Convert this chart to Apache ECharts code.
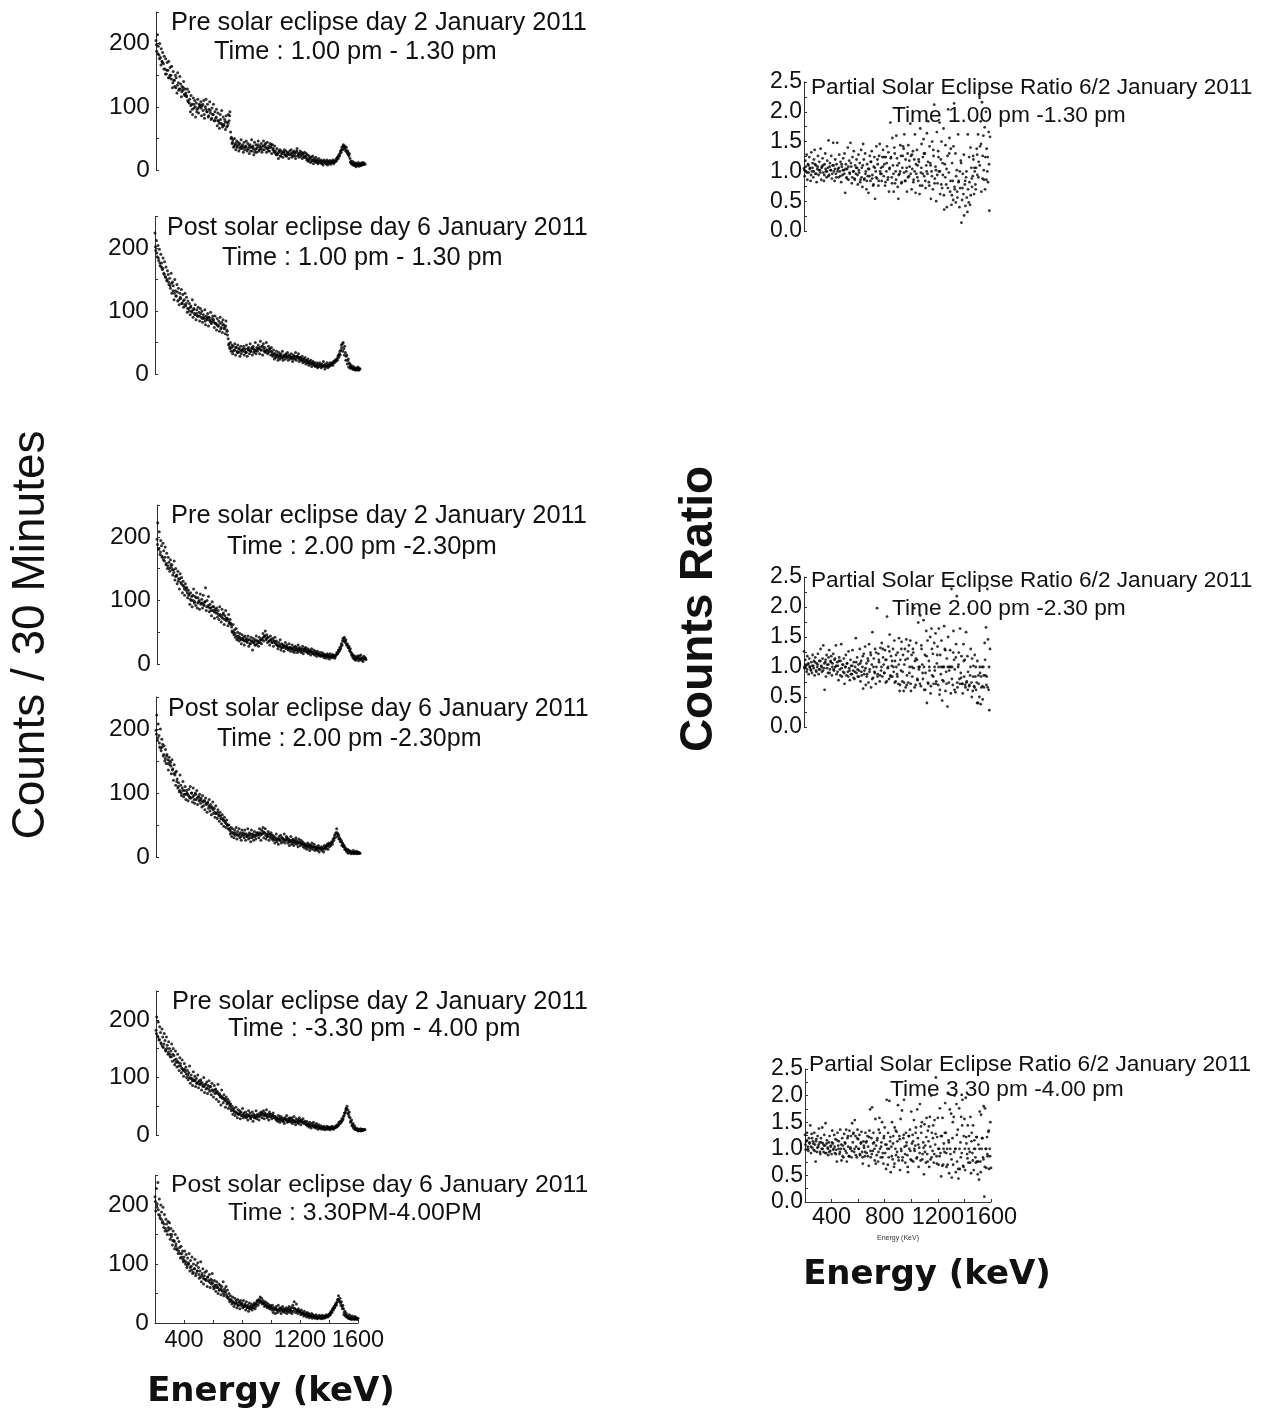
<!DOCTYPE html>
<html><head><meta charset="utf-8">
<style>html,body{margin:0;padding:0;background:#fff}#c{width:1263px;height:1411px}</style>
<script src="https://cdn.jsdelivr.net/npm/echarts@6/dist/echarts.min.js"></script></head>
<body><div id="c"></div>
<script>
const energies=[
200,205,210,215,220,225,230,235,240,245,250,255,260,265,270,275,280,285,290,295,
300,305,310,315,320,325,330,335,340,345,350,355,360,365,370,375,380,385,390,395,
400,405,410,415,420,425,430,435,440,445,450,455,460,465,470,475,480,485,490,495,
500,505,510,515,520,525,530,535,540,545,550,555,560,565,570,575,580,585,590,595,
600,605,610,615,620,625,630,635,640,645,650,655,660,665,670,675,680,685,690,695,
700,705,710,715,720,725,730,735,740,745,750,755,760,765,770,775,780,785,790,795,
800,805,810,815,820,825,830,835,840,845,850,855,860,865,870,875,880,885,890,895,
900,905,910,915,920,925,930,935,940,945,950,955,960,965,970,975,980,985,990,995,
1000,1005,1010,1015,1020,1025,1030,1035,1040,1045,1050,1055,1060,1065,1070,1075,1080,1085,1090,1095,
1100,1105,1110,1115,1120,1125,1130,1135,1140,1145,1150,1155,1160,1165,1170,1175,1180,1185,1190,1195,
1200,1205,1210,1215,1220,1225,1230,1235,1240,1245,1250,1255,1260,1265,1270,1275,1280,1285,1290,1295,
1300,1305,1310,1315,1320,1325,1330,1335,1340,1345,1350,1355,1360,1365,1370,1375,1380,1385,1390,1395,
1400,1405,1410,1415,1420,1425,1430,1435,1440,1445,1450,1455,1460,1465,1470,1475,1480,1485,1490,1495,
1500,1505,1510,1515,1520,1525,1530,1535,1540,1545,1550,1555,1560,1565,1570,1575,1580,1585,1590,1595,1600];
const energiesB=[
203,213,223,233,243,253,263,273,283,293,303,313,323,333,343,353,363,373,383,393,
403,413,423,433,443,453,463,473,483,493,503,513,523,533,543,553,563,573,583,593,
603,613,623,633,643,653,663,673,683,693,703,713,723,733,743,753,763,773,783,793,
803,813,823,833,843,853,863,873,883,893,903,913,923,933,943,953,963,973,983,993,
1003,1013,1023,1033,1043,1053,1063,1073,1083,1093,1103,1113,1123,1133,1143,1153,1163,1173,1183,1193,
1203,1213,1223,1233,1243,1253,1263,1273,1283,1293,1303,1313,1323,1333,1343,1353,1363,1373,1383,1393,
1403,1413,1423,1433,1443,1453,1463,1473,1483,1493,1503,1513,1523,1533,1543,1553,1563,1573,1583,1593];

const pre1=[
205,188,214,196,182,200,178,192,172,186,168,180,160,176,152,170,158,172,146,162,
150,164,130,156,142,132,150,146,122,154,138,128,148,136,116,132,126,140,120,128,
122,116,128,108,124,112,92,118,104,88,114,98,110,84,106,96,112,90,104,100,
108,86,102,94,110,82,100,112,92,104,84,96,108,90,80,98,88,104,78,92,
82,96,70,90,78,66,88,74,94,68,84,72,80,64,86,76,70,88,78,92,
60,52,42,48,36,50,40,32,46,38,44,30,42,36,48,34,40,28,44,36,
38,46,30,42,34,26,40,36,48,30,38,24,44,32,40,28,36,46,30,38,
34,42,28,38,46,32,40,36,28,44,34,38,30,42,36,26,40,34,30,38,
30,24,34,26,18,28,32,22,30,26,20,28,32,24,30,22,28,26,18,30,
24,32,20,28,22,30,26,18,28,34,22,26,20,30,24,28,18,26,22,28,
20,26,16,24,14,22,18,12,20,16,22,10,18,14,20,12,16,10,18,14,
12,16,10,14,8,16,12,14,10,16,8,14,11,15,9,14,12,16,10,14,
13,17,15,20,18,24,22,30,28,36,32,40,34,38,30,36,28,30,24,26,
18,14,10,14,8,12,7,11,5,10,8,12,6,10,7,11,8,12,9,11,9];
const pre1B=[
198,184,176,166,170,160,152,158,146,150,144,138,142,130,134,126,128,124,130,118,
118,110,106,102,96,104,100,92,98,102,98,104,88,96,92,86,94,82,88,78,
84,78,74,80,72,70,76,68,74,86,50,44,38,42,36,40,34,38,36,32,
36,32,38,30,36,34,28,34,40,32,36,32,38,42,34,30,36,40,32,28,
26,24,30,22,26,28,24,22,26,24,26,24,28,22,30,24,26,22,26,20,
22,18,16,20,14,16,14,16,12,14,13,11,14,12,10,13,11,12,14,12,
14,18,22,26,32,38,36,32,26,22,12,10,9,8,10,7,9,8,10,9];

const post1=[
224,196,212,186,204,180,198,172,190,176,166,184,160,178,154,170,148,164,158,142,
152,136,160,128,146,140,118,150,132,124,142,116,136,110,128,120,134,112,126,106,
118,128,108,122,98,116,104,112,94,108,100,118,90,104,96,110,86,102,92,106,
98,84,104,90,100,82,94,88,102,78,92,86,96,76,90,84,98,80,88,92,
86,74,92,80,70,88,76,84,68,90,72,82,66,86,78,74,64,84,70,62,
56,48,42,50,36,46,32,44,38,48,30,42,36,46,34,40,28,44,32,38,
36,44,30,40,34,46,28,38,42,32,48,36,40,30,44,34,38,50,32,42,
36,46,40,32,52,38,44,30,48,36,42,34,50,38,32,44,36,40,30,42,
34,28,38,24,32,26,36,30,22,34,28,24,32,26,36,22,30,28,24,32,
26,34,22,30,28,24,32,26,20,30,28,24,34,22,28,26,32,20,26,24,
22,28,18,24,20,26,16,22,18,24,14,20,16,22,12,18,20,14,18,12,
14,18,10,16,12,18,14,10,16,12,20,14,8,16,12,18,10,14,12,18,
14,16,18,14,20,18,22,20,24,22,28,26,32,30,38,42,48,50,40,44,
34,28,30,22,24,18,16,12,14,10,8,12,7,10,6,9,8,11,6,9,8];
const post1B=[
202,192,184,176,170,168,158,154,150,146,140,144,132,128,124,130,118,122,112,116,
110,112,104,100,106,98,102,94,96,92,92,96,88,90,84,88,90,86,82,84,
82,80,78,76,80,74,78,72,76,68,46,40,42,36,38,42,34,40,36,38,
40,36,34,40,38,36,42,40,36,38,40,42,38,44,40,36,38,34,40,36,
30,32,28,30,26,30,28,26,28,30,28,26,28,26,24,28,26,28,24,26,
22,24,20,22,18,20,18,16,16,14,14,12,14,13,12,14,12,13,15,14,
15,17,19,22,24,30,36,46,36,30,22,16,11,9,10,8,8,7,8,7];

const pre2=[
196,222,180,208,172,194,186,168,190,178,162,184,156,174,150,168,160,146,164,152,
156,140,148,162,132,150,138,126,146,134,118,142,128,136,112,130,122,108,126,116,
120,104,116,110,94,112,100,90,108,118,96,106,92,112,88,104,98,86,110,96,
102,88,108,92,98,120,84,100,90,106,82,94,88,76,98,84,90,72,86,80,
88,74,84,70,90,78,66,86,72,80,62,76,84,68,72,60,78,64,70,62,
58,50,62,46,54,42,56,38,50,44,36,48,40,32,46,38,42,30,44,36,
40,34,44,28,38,32,42,36,22,40,34,30,38,44,32,36,28,42,34,38,
32,40,48,36,44,52,38,46,34,42,36,30,44,38,34,40,28,36,42,32,
36,30,24,34,28,38,22,32,26,30,20,28,34,24,30,26,22,32,26,20,
24,30,20,26,18,28,22,24,18,30,20,26,22,18,24,28,16,24,20,26,
22,18,24,16,22,20,14,24,18,16,22,14,20,18,12,20,16,14,18,12,
14,18,12,16,10,15,13,9,16,12,14,8,16,12,10,15,11,14,9,13,
14,18,16,22,20,26,24,32,30,40,36,42,34,38,30,32,26,28,22,24,
18,16,12,14,8,12,6,11,9,13,5,12,8,14,6,10,4,12,8,10,7];
const pre2B=[
188,182,176,170,164,168,158,154,150,156,148,144,138,140,130,134,126,124,118,120,
112,108,102,106,100,98,104,96,100,94,96,94,98,90,92,88,84,90,82,84,
80,78,76,74,78,70,72,70,66,64,52,50,48,44,40,42,38,40,36,38,
36,38,32,36,34,36,30,36,34,38,38,42,44,40,42,36,38,34,36,34,
30,28,30,26,30,26,28,26,24,26,24,24,22,26,22,24,22,20,22,24,
20,20,18,20,18,16,16,16,14,14,13,14,12,13,12,11,12,13,12,11,
15,18,22,28,36,40,36,30,26,20,14,10,9,8,9,9,8,9,8,9];

const post2=[
198,222,182,208,190,172,200,166,184,176,158,174,150,168,146,160,152,136,156,144,
148,130,152,138,120,144,128,112,134,122,108,116,102,128,112,96,108,118,94,104,
110,90,104,98,88,106,94,110,92,100,86,108,96,84,100,90,104,82,94,88,
98,84,92,78,96,80,88,74,92,84,70,86,76,90,72,82,66,78,86,68,
76,62,80,68,60,74,64,56,70,60,52,66,58,48,62,54,46,58,50,44,
50,42,36,46,32,44,38,30,42,34,46,28,40,34,44,30,38,26,42,34,
38,30,42,26,36,32,44,28,38,34,24,42,30,36,26,40,32,28,38,34,
38,30,44,34,26,42,36,46,30,38,44,28,36,32,40,26,36,30,38,28,
34,26,32,22,30,36,24,28,20,32,26,34,22,30,24,28,36,22,26,32,
30,22,28,18,26,32,20,24,28,18,26,22,30,20,24,16,28,22,18,26,
20,24,16,22,14,20,18,12,22,16,20,10,18,14,22,12,16,20,10,16,
12,16,10,18,8,14,12,16,10,14,8,18,12,16,14,20,12,22,16,20,
18,24,20,28,26,34,30,38,44,32,36,28,30,24,26,18,22,16,18,12,
14,10,8,12,6,10,7,9,5,8,6,10,5,8,6,9,5,8,6,7,6];
const post2B=[
192,186,178,170,172,160,154,158,146,150,142,136,130,132,118,110,104,100,104,98,
98,100,96,92,100,94,90,98,92,94,90,88,86,88,82,84,80,78,76,74,
70,68,70,66,64,60,58,56,52,50,44,40,38,36,38,36,34,36,32,36,
34,36,32,34,30,36,32,34,34,36,36,38,36,40,38,34,32,36,32,34,
30,28,26,28,28,26,30,28,26,28,26,24,24,26,22,24,26,22,24,22,
20,20,18,16,18,14,18,16,16,14,13,14,14,12,13,15,16,18,18,20,
22,24,30,36,38,34,28,24,20,16,12,10,8,9,8,7,7,7,7,6];

const pre3=[
182,205,172,196,165,188,178,158,184,170,152,176,164,146,170,156,140,162,150,136,
146,158,128,150,138,122,146,132,118,140,126,112,134,120,108,130,114,102,124,110,
118,100,112,96,108,120,90,104,98,86,110,94,102,84,98,90,104,82,94,88,
96,78,90,84,100,74,88,80,92,72,86,94,76,84,70,90,78,66,86,72,
80,62,76,88,58,72,66,52,78,64,56,70,60,48,66,54,62,46,58,50,
54,42,50,36,46,40,34,48,38,30,44,36,42,28,40,34,46,30,38,32,
40,30,36,26,42,34,38,28,32,40,24,36,30,34,42,28,36,32,26,38,
34,40,30,36,42,28,38,34,44,30,36,26,40,32,36,28,34,38,30,32,
32,26,30,24,34,28,22,32,26,30,24,28,20,30,26,34,22,28,24,30,
28,22,30,20,26,32,24,18,28,22,26,20,30,24,18,26,22,28,20,24,
22,18,24,16,20,14,22,18,12,20,16,22,14,18,12,20,16,10,18,14,
13,16,10,14,12,15,9,13,11,15,10,14,12,9,14,11,15,12,10,14,
14,16,14,18,16,22,20,24,22,28,26,32,34,38,42,46,50,44,36,40,
30,24,26,18,20,14,16,10,12,9,11,7,10,8,11,7,10,8,9,10,9];
const pre3B=[
176,170,166,160,154,158,148,150,144,140,136,140,130,126,128,120,124,116,112,114,
106,104,100,98,94,96,94,90,92,88,92,86,84,88,82,80,84,78,76,78,
74,72,70,68,66,64,62,58,56,54,46,44,42,40,38,36,38,34,36,34,
34,32,34,30,34,32,30,32,34,32,36,38,34,36,34,32,36,32,34,30,
28,28,26,30,26,24,28,26,24,26,24,26,24,22,24,22,26,24,22,22,
20,18,18,16,16,16,14,15,14,12,12,12,11,12,11,12,12,11,12,12,
13,15,18,20,24,28,38,46,38,32,22,16,12,10,9,8,9,8,9,9];

const post3=[
214,190,228,202,238,184,210,178,200,188,170,196,162,184,156,176,168,150,172,158,
170,142,160,150,132,156,140,126,150,134,124,144,118,138,128,110,130,118,122,104,
112,122,100,116,94,110,102,118,88,106,96,112,84,100,92,108,80,98,88,102,
94,76,88,104,70,84,92,66,80,86,74,88,62,78,72,82,60,74,66,84,
68,58,72,64,54,70,60,50,66,56,64,48,62,54,70,46,58,52,62,44,
56,42,50,36,46,40,32,44,36,28,42,34,38,26,40,30,36,24,38,32,
34,26,38,28,32,22,36,26,30,20,34,28,24,32,22,30,26,34,24,28,
32,38,30,40,34,44,36,42,32,38,34,28,36,30,34,26,32,28,24,30,
28,22,30,18,26,24,16,28,22,18,30,24,20,26,16,24,28,20,24,18,
22,26,16,24,20,28,18,22,26,16,30,20,36,24,18,32,22,16,24,20,
20,14,22,16,18,12,20,14,16,10,18,12,16,9,14,12,16,8,14,10,
12,8,14,10,7,12,9,13,8,11,7,13,10,8,12,9,14,11,10,14,
12,16,14,20,18,24,22,28,26,32,30,36,40,46,38,42,34,36,28,30,
24,18,20,14,16,10,12,8,14,7,11,6,12,8,10,6,11,7,9,6,8];
const post3B=[
206,196,192,182,176,172,168,160,156,162,150,146,140,138,130,126,122,118,112,108,
106,104,98,100,94,90,86,92,84,88,82,78,80,76,74,72,78,70,68,72,
62,60,64,60,56,58,56,50,54,48,44,40,38,36,34,32,34,30,34,30,
30,28,30,28,26,24,28,26,30,32,36,38,38,36,34,32,30,28,28,26,
26,24,22,24,22,22,24,22,20,22,22,20,24,22,20,26,24,22,20,20,
18,16,16,14,14,13,12,12,11,12,10,10,9,10,10,9,11,10,11,12,
14,18,22,26,30,34,40,36,30,24,14,12,10,9,8,8,7,8,7,7];

const ratio1=[
1.05,0.92,1.18,1.0,1.28,0.86,1.12,0.98,1.24,1.06,0.84,1.32,1.0,1.14,0.9,1.2,1.36,0.96,1.1,0.82,
1.04,1.26,0.94,1.16,1.02,1.38,0.86,1.08,1.22,0.98,0.84,1.12,1.3,1.0,0.9,1.18,1.06,1.52,0.94,1.14,
1.02,1.26,0.88,1.1,1.48,1.0,0.84,1.2,0.96,1.12,1.48,1.04,0.9,1.28,1.0,1.16,0.82,1.08,0.94,1.22,
1.02,1.3,0.64,1.12,0.9,1.04,1.4,0.86,1.18,0.96,1.48,1.08,0.8,1.24,1.0,1.34,0.88,1.1,0.96,1.2,
1.06,0.78,1.28,0.98,1.14,0.86,1.36,1.06,0.74,1.46,1.2,0.88,1.3,1.0,0.7,1.12,0.92,0.64,1.04,1.26,
0.84,1.16,1.34,0.94,0.76,1.08,1.24,0.54,1.0,1.42,0.88,1.12,0.76,1.26,1.46,0.96,1.06,0.84,1.24,1.36,
0.92,1.12,0.76,1.24,1.0,1.42,0.86,1.32,0.66,1.06,1.82,1.24,0.9,1.56,1.1,0.66,1.4,0.8,1.0,1.6,
1.22,0.74,0.54,1.14,0.96,1.44,1.26,0.82,1.06,1.42,1.38,1.62,0.84,1.2,1.0,0.66,1.3,1.44,0.92,1.08,
1.8,1.26,0.7,1.04,1.34,0.86,1.2,1.62,0.64,0.96,1.36,1.1,0.84,1.16,0.62,1.72,0.98,1.46,0.76,1.24,
1.54,0.92,1.3,0.72,1.1,1.64,0.96,1.84,0.82,1.42,1.14,0.54,1.0,1.5,0.7,1.26,2.12,0.88,1.08,0.5,
1.66,0.8,1.34,1.0,1.82,0.62,1.2,1.5,0.72,0.94,1.72,0.36,1.12,1.44,0.78,0.4,1.26,2.04,0.98,1.56,
0.66,1.38,0.44,1.14,0.84,1.42,2.14,0.7,1.3,0.92,1.02,0.56,1.62,0.84,0.4,0.72,1.18,0.14,0.52,0.96,
0.62,0.26,0.78,0.42,0.9,0.56,0.32,0.7,0.48,0.82,0.44,0.6,1.06,0.74,0.92,1.2,0.62,1.0,0.78,1.06,
1.38,0.94,1.62,1.16,2.3,1.42,1.84,0.66,2.16,1.26,1.6,0.86,1.74,1.24,2.0,1.38,1.0,0.82,1.66,0.34,1.58];
const ratio1B=[
1.02,1.08,0.98,1.1,1.04,0.94,1.06,1.0,1.12,0.96,1.08,1.02,0.98,1.06,1.1,0.94,1.04,1.0,0.92,1.08,
1.02,0.96,1.1,1.04,0.9,1.0,1.06,0.92,1.12,1.02,0.96,1.04,0.88,1.08,0.98,1.14,0.9,1.0,0.86,1.06,
0.94,1.02,0.82,0.9,1.1,0.86,0.96,0.84,1.04,0.92,1.16,0.88,0.78,1.06,0.9,1.2,0.84,1.0,0.96,1.08,
1.24,0.82,1.14,0.9,1.04,1.22,0.8,0.96,1.3,0.86,1.1,0.94,1.0,0.8,1.26,0.98,0.84,1.06,0.9,1.18,
0.96,1.28,0.82,1.0,1.12,0.9,1.2,0.76,1.06,0.96,1.3,0.84,1.0,1.16,0.76,1.1,0.92,1.36,0.8,1.02,
0.94,1.24,1.0,0.78,1.14,0.6,0.9,1.04,0.72,1.3,0.84,0.6,0.52,0.74,0.48,0.66,0.82,1.0,1.14,0.72,
1.28,0.84,1.0,1.62,1.24,1.4,0.88,1.26,1.06,0.7,1.28,0.9,1.1,1.46,0.88,1.02,0.7,0.86,1.24,1.12];

const ratio2=[
1.26,0.98,1.12,1.02,0.92,1.18,1.04,0.88,1.14,1.0,0.96,1.08,0.9,1.2,1.02,1.1,0.86,1.16,0.94,1.06,
1.0,1.22,0.88,1.1,0.96,1.3,1.02,0.92,1.14,1.36,0.98,0.62,1.08,0.84,1.2,1.04,0.9,1.16,1.28,0.96,
1.1,1.18,0.86,1.06,1.22,0.94,1.12,1.0,1.36,0.88,1.08,1.02,0.78,1.16,0.96,1.1,1.38,0.84,1.04,0.92,
1.14,0.72,1.0,1.2,0.86,1.06,0.92,1.26,0.98,0.78,1.12,1.02,0.88,1.28,0.94,1.08,0.8,1.0,1.48,0.9,
1.16,0.84,1.04,0.94,1.3,0.76,1.1,0.86,1.0,0.64,1.22,0.94,1.34,0.7,1.06,0.88,1.14,0.74,1.38,0.96,
1.24,0.66,1.04,1.58,0.82,1.14,0.92,1.3,0.72,1.0,1.98,0.88,1.22,1.08,0.76,1.32,0.94,1.4,0.84,1.16,
1.04,0.9,1.28,0.74,1.12,1.84,0.98,1.34,0.8,1.54,0.86,1.18,1.02,0.84,1.3,0.92,1.44,1.1,0.76,1.0,
0.88,1.24,0.72,1.48,0.6,1.12,0.94,1.42,0.76,1.2,0.6,1.04,1.3,0.66,1.46,0.86,1.14,0.74,1.36,1.0,
1.44,0.6,1.2,0.84,1.3,0.98,1.98,1.1,0.7,1.4,1.12,0.78,1.74,0.96,1.0,1.86,0.68,1.3,1.04,0.8,
1.78,0.62,1.2,0.9,1.6,0.4,1.44,0.72,1.1,0.94,1.5,0.68,1.64,0.86,1.22,0.72,1.4,0.94,1.56,0.76,
1.06,1.34,0.7,1.64,0.54,1.2,0.88,1.44,0.44,1.0,0.76,1.68,1.3,0.6,0.92,1.14,0.34,1.5,0.74,1.0,
1.28,0.56,2.3,1.0,0.7,1.6,1.12,0.96,0.58,1.38,2.18,0.66,1.0,1.24,0.8,1.64,0.9,1.18,0.72,0.56,
1.38,0.84,1.12,0.66,1.58,0.76,1.18,0.92,2.0,0.7,0.86,1.3,0.74,1.14,0.6,1.02,0.68,1.2,0.84,0.62,
0.74,1.1,0.4,0.72,0.5,0.9,0.38,0.66,1.0,0.46,1.0,0.66,1.4,0.86,1.66,0.84,2.3,1.46,0.62,0.28,1.3];
const ratio2B=[
1.0,1.04,0.96,1.06,1.0,0.94,1.02,0.98,1.08,0.92,1.04,0.96,1.1,1.0,0.94,1.06,1.12,0.98,1.04,0.9,
1.08,1.0,0.96,1.14,1.02,0.92,1.1,0.86,0.98,1.04,0.9,1.0,1.06,0.84,0.94,0.88,1.02,0.82,0.92,1.08,
0.96,0.84,1.06,0.92,1.18,0.88,0.98,0.84,1.1,0.92,1.2,0.8,1.0,0.9,1.24,0.84,1.12,0.86,1.0,1.3,
0.9,1.12,0.76,1.0,1.26,0.84,1.1,1.0,0.74,1.2,0.84,1.04,0.7,1.3,0.92,0.74,1.12,0.7,1.26,0.9,
0.72,1.0,1.24,0.66,1.14,0.8,1.0,0.72,1.36,0.9,1.0,0.62,1.18,0.74,1.0,0.56,1.3,0.84,1.0,0.72,
1.2,1.0,0.62,1.0,0.78,1.0,1.28,0.72,1.0,0.94,1.0,0.8,1.24,0.62,1.16,0.74,1.04,0.72,0.82,0.72,
1.1,0.7,0.74,0.62,0.68,1.0,0.5,0.84,0.66,1.0,0.4,0.86,1.0,0.84,0.68,0.86,1.12,0.7,0.66,1.0];

const ratio3=[
1.26,0.98,1.14,1.3,1.04,0.96,1.2,1.1,1.44,0.92,1.28,1.02,1.14,0.98,1.3,1.08,0.76,1.18,0.94,1.24,
1.04,1.38,1.12,0.9,1.2,1.0,1.4,1.1,0.94,1.26,1.06,1.48,0.92,1.16,1.02,0.88,1.12,1.24,0.96,1.06,
0.9,1.34,1.1,1.0,1.26,0.92,1.18,0.98,0.76,1.3,1.06,1.14,0.9,1.36,1.0,0.78,1.2,1.06,0.84,1.28,
1.12,0.96,1.36,0.76,1.2,1.04,0.86,1.34,1.0,1.24,0.84,1.48,1.12,1.3,0.94,1.54,1.24,1.04,0.84,1.36,
1.18,1.0,1.26,0.88,1.1,1.32,0.94,0.72,1.14,1.02,0.86,1.3,1.12,0.92,1.24,1.04,0.68,1.34,1.74,0.84,
1.2,1.78,0.96,1.3,1.12,0.78,1.56,1.06,0.88,1.2,0.76,1.36,1.58,1.0,0.84,1.12,1.5,0.92,0.72,1.24,
1.4,1.08,0.62,1.92,1.0,1.3,0.84,1.9,1.14,0.56,1.04,1.5,0.8,1.24,0.66,1.4,1.0,0.88,1.32,1.14,
1.82,0.78,1.24,0.6,1.56,0.96,1.72,0.84,1.2,1.92,1.04,0.74,1.3,1.12,0.88,0.56,1.24,1.0,1.36,0.8,
1.7,1.1,1.26,0.76,1.54,0.96,1.06,1.4,0.82,1.74,1.2,0.66,1.02,1.84,0.78,1.3,1.5,0.9,1.12,0.52,
1.46,1.06,0.74,1.58,0.9,1.34,1.14,0.66,1.6,0.8,2.0,1.3,0.96,1.44,0.74,1.54,1.08,2.34,0.86,1.22,
1.58,0.7,1.0,1.76,0.92,0.48,1.24,1.58,0.7,1.1,0.94,1.86,1.3,0.66,1.0,2.04,1.16,0.54,1.74,0.9,
1.66,0.46,1.2,0.7,1.6,2.0,1.0,0.56,1.84,0.76,1.36,0.44,1.76,0.62,1.12,1.6,0.92,1.92,0.68,1.24,
1.56,0.6,1.96,1.1,0.9,1.44,0.74,1.24,0.94,1.6,0.54,1.3,0.92,1.44,0.6,1.16,1.0,0.74,1.22,0.76,
0.52,1.08,0.42,1.7,0.76,1.64,1.0,1.2,0.84,1.8,0.1,1.76,1.0,0.64,1.22,0.86,1.32,0.62,1.0,1.5,0.64];
const ratio3B=[
1.08,1.16,1.0,1.12,1.04,1.2,1.1,0.96,1.14,1.02,1.08,0.94,1.12,1.0,1.06,0.92,1.1,1.0,0.94,1.04,
1.12,0.98,1.04,0.9,1.16,1.0,0.94,1.08,0.86,1.0,1.1,0.92,1.24,0.86,1.02,0.96,1.28,1.0,0.88,1.2,
1.0,0.9,1.12,0.84,1.06,0.94,1.14,0.86,1.22,0.96,0.9,1.1,1.0,0.72,1.16,0.94,1.3,1.04,0.84,1.2,
0.92,1.08,0.7,1.0,1.22,0.86,1.1,0.72,1.34,0.94,0.84,1.18,1.0,0.78,1.26,0.9,1.06,0.66,1.24,0.96,
0.78,1.14,1.0,1.3,0.84,1.08,0.92,1.42,0.8,1.02,0.94,1.22,0.76,1.42,1.04,0.84,1.2,0.9,1.28,0.72,
1.0,0.86,1.24,0.68,1.0,1.3,0.92,0.7,1.12,1.0,0.8,1.5,0.94,1.0,1.26,0.62,1.0,0.84,1.44,0.66,
1.0,1.22,0.82,1.0,0.74,1.14,0.78,1.0,0.84,1.22,0.76,1.0,0.56,1.2,0.8,0.66,1.0,0.9,1.34,0.86];

const panelSeries=[pre1,post1,pre2,post2,pre3,post3,ratio1,ratio2,ratio3];
const panelSeriesB=[pre1B,post1B,pre2B,post2B,pre3B,post3B,ratio1B,ratio2B,ratio3B];
const countTicks=[0,100,200];
const countMinor=[0,50,100,150,200,250];
const ratioTicks=[0,0.5,1,1.5,2,2.5];
const ratioMinor=[0,0.25,0.5,0.75,1,1.25,1.5,1.75,2,2.25,2.5];
const energyTicks=[400,800,1200,1600];
const energyMinor=[200,400,600,800,1000,1200,1400,1600];

const titleLines=[
["Pre solar eclipse day 2 January 2011",171,23,25.4],["Time : 1.00 pm - 1.30 pm",214,52,25.4],
["Post solar eclipse day 6 January 2011",167,228,25],["Time : 1.00 pm - 1.30 pm",222,258,25.2],
["Pre solar eclipse day 2 January 2011",171,516,25.4],["Time : 2.00 pm -2.30pm",227,547,25.5],
["Post solar eclipse day 6 January 2011",168,709,25],["Time : 2.00 pm -2.30pm",217,739,25],
["Pre solar eclipse day 2 January 2011",172,1002,25.4],["Time : -3.30 pm - 4.00 pm",228,1029,25.5],
["Post solar eclipse day 6 January 2011",171,1185,24.8],["Time : 3.30PM-4.00PM",228,1213,24.8]];
const ratioLines=[
["Partial Solar Eclipse Ratio 6/2 January 2011",811,88,22.65],["Time 1.00 pm -1.30 pm",892,116,22.7],
["Partial Solar Eclipse Ratio 6/2 January 2011",811,581,22.65],["Time 2.00 pm -2.30 pm",892,609,22.7],
["Partial Solar Eclipse Ratio 6/2 January 2011",809,1065,22.7],["Time 3.30 pm -4.00 pm",890,1090,22.7]];

// left, top, width, height of each plot area
const frames=[[156,12,209,158],[155,216.5,205,157.5],[157,505,209,159],[156,697,204,160],[156,991,209,144],[155,1175.5,203,147.5],
[804,82,186,149],[804,577,186,150],[805,1069,186,133]];
const sans='"Liberation Sans",Arial,sans-serif';
const grids=[],xAxes=[],yAxes=[],series=[],graphic=[];
frames.forEach((f,i)=>{
  const isRatio=i>=6, bottomAxis=(i===5||i===8);
  grids.push({left:f[0],top:f[1],width:f[2],height:f[3]});
  xAxes.push({type:'value',gridIndex:i,min:200,max:1600,show:bottomAxis,splitLine:{show:false},
    axisLine:{show:true,onZero:false,lineStyle:{color:'#333',width:1}},
    axisTick:{inside:true,length:3,customValues:energyMinor,lineStyle:{color:'#333'}},
    axisLabel:{customValues:energyTicks,color:'#111',fontFamily:sans,fontSize:23.5,margin:isRatio?4:6,hideOverlap:false,showMaxLabel:true,showMinLabel:true,
      formatter:v=>String(v)}});
  yAxes.push({type:'value',gridIndex:i,min:0,max:isRatio?2.5:250,splitLine:{show:false},
    axisLine:{show:true,onZero:false,lineStyle:{color:'#333',width:1}},
    axisTick:{inside:true,length:3,customValues:isRatio?ratioMinor:countMinor,lineStyle:{color:'#333'}},
    axisLabel:{customValues:isRatio?ratioTicks:countTicks,color:'#111',fontFamily:sans,fontSize:isRatio?23:24.5,margin:isRatio?2:6,padding:[8,0,0,0],
      formatter:isRatio?(v=>v.toFixed(1)):(v=>String(v))}});
  const a=panelSeries[i].map((v,k)=>[energies[k],v]);
  const b=panelSeriesB[i].map((v,k)=>[energiesB[k],v]);
  series.push({type:'scatter',xAxisIndex:i,yAxisIndex:i,symbol:'circle',symbolSize:isRatio?2.8:3,silent:true,clip:false,large:false,
    itemStyle:{color:'#000'},data:a.concat(b)});
});
function label(t){graphic.push({type:'text',x:t[1],y:t[2],z:50,silent:true,
  style:{text:t[0],fill:'#111',font:t[3]+'px '+sans,align:'left',verticalAlign:'middle'}});}
titleLines.forEach(t=>label(t));
ratioLines.forEach(t=>label(t));
graphic.push({type:'text',x:31,y:635,rotation:Math.PI/2,z:50,silent:true,style:{text:'Counts / 30 Minutes',fill:'#111',font:'46px '+sans,align:'center',verticalAlign:'middle'}});
graphic.push({type:'text',x:699,y:609,rotation:Math.PI/2,z:50,silent:true,style:{text:'Counts Ratio',fill:'#111',font:'bold 46px '+sans,align:'center',verticalAlign:'middle'}});
graphic.push({type:'text',x:271,y:1392,z:50,silent:true,style:{text:'Energy (keV)',fill:'#111',font:'bold 34px "DejaVu Sans"',align:'center',verticalAlign:'middle'}});
graphic.push({type:'text',x:927,y:1275,z:50,silent:true,style:{text:'Energy (keV)',fill:'#111',font:'bold 34px "DejaVu Sans"',align:'center',verticalAlign:'middle'}});
graphic.push({type:'text',x:898,y:1238,z:50,silent:true,style:{text:'Energy (KeV)',fill:'#333',font:'7px '+sans,align:'center',verticalAlign:'middle'}});

const chart=echarts.init(document.getElementById('c'),null,{renderer:'canvas'});
chart.setOption({animation:false,backgroundColor:'#fff',grid:grids,xAxis:xAxes,yAxis:yAxes,series:series,graphic:graphic});
</script></body></html>
